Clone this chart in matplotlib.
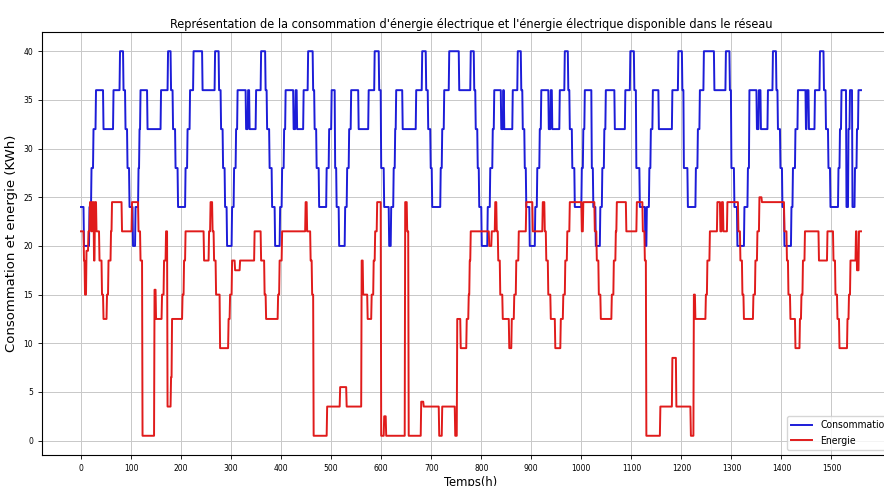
import numpy as np
import matplotlib

matplotlib.use("Agg")
import matplotlib.pyplot as plt  # noqa: E402

N_HOURS = 1560

# consumption profile: hour at which each level starts, and the level (KWh)
conso_start = [
    0, 6, 17, 21, 25, 30, 45, 65, 78, 85, 89, 93, 97, 104, 109, 115, 117, 119,
    133, 160, 174, 180, 184, 189, 194, 209, 213, 218, 225, 243, 268, 276, 280,
    284, 288, 292, 302, 306, 310, 313, 330, 334, 337, 350, 360, 369, 372, 377,
    382, 388, 398, 402, 406, 409, 425, 429, 432, 445, 454, 464, 467, 471, 476,
    491, 496, 501, 508, 511, 516, 528, 532, 536, 540, 555, 575, 587, 596, 600,
    606, 616, 620, 625, 628, 630, 643, 670, 682, 690, 694, 699, 702, 719, 722,
    726, 736, 756, 779, 786, 789, 793, 796, 801, 813, 818, 823, 826, 840, 844,
    846, 863, 873, 880, 883, 887, 890, 897, 908, 912, 917, 920, 935, 939, 942,
    957, 967, 974, 977, 982, 987, 1001, 1004, 1007, 1021, 1024, 1029, 1038,
    1042, 1046, 1049, 1067, 1088, 1098, 1106, 1110, 1117, 1128, 1131, 1136,
    1139, 1143, 1155, 1182, 1194, 1202, 1205, 1213, 1229, 1233, 1237, 1245,
    1266, 1289, 1297, 1300, 1306, 1312, 1326, 1333, 1336, 1351, 1355, 1359,
    1373, 1383, 1390, 1393, 1398, 1402, 1406, 1420, 1423, 1428, 1433, 1449,
    1451, 1455, 1467, 1477, 1485, 1489, 1494, 1498, 1514, 1517, 1520, 1530,
    1534, 1537, 1542, 1547, 1551, 1554,
]
conso_level = [
    24, 20, 24, 28, 32, 36, 32, 36, 40, 36, 32, 28, 24, 20, 24, 28, 32, 36,
    32, 36, 40, 36, 32, 28, 24, 28, 32, 36, 40, 36, 40, 36, 32,
    28, 24, 20, 24, 28, 32, 36, 32, 36, 32, 36, 40, 36, 32, 28,
    24, 20, 24, 28, 32, 36, 32, 36, 32, 36, 40, 36, 32, 28, 24,
    28, 32, 36, 28, 24, 20, 24, 28, 32, 36, 32, 36, 40, 36, 28,
    24, 20, 24, 28, 32, 36, 32, 36, 40, 36, 32, 28, 24, 28, 32,
    36, 40, 36, 40, 36, 32, 28, 24, 20, 24, 28, 32, 36, 32, 36,
    32, 36, 40, 36, 32, 28, 24, 20, 24, 28, 32, 36, 32, 36, 32,
    36, 40, 36, 32, 28, 24, 28, 32, 36, 28, 24, 20, 24,
    28, 32, 36, 32, 36, 40, 36, 28, 24, 20, 24, 28,
    32, 36, 32, 36, 40, 36, 28, 24, 28, 32, 36, 40,
    36, 40, 36, 28, 24, 20, 24, 28, 36, 32, 36, 32,
    36, 40, 36, 32, 28, 24, 20, 24, 28, 32, 36, 32,
    36, 32, 36, 40, 36, 32, 28, 24, 28, 32, 36, 24,
    32, 36, 24, 28, 32, 36,
]

# energy available in the network
energie_start = [
    0, 6, 8, 11, 15, 18, 21, 23, 26, 28, 31, 37, 42, 45, 52, 55, 60, 62, 82,
    102, 115, 119, 123, 147, 150, 162, 166, 170, 173, 180, 182, 203, 206, 209,
    246, 256, 259, 263, 266, 270, 278, 295, 298, 302, 308, 318, 347, 360, 367,
    370, 394, 397, 402, 449, 452, 459, 462, 465, 492, 518, 531, 561, 564, 573,
    581, 585, 588, 592, 600, 606, 610, 648, 652, 655, 680, 685, 716, 722, 748,
    752, 759, 771, 775, 777, 779, 816, 821, 828, 831, 834, 838, 843, 856, 861,
    866, 870, 875, 890, 903, 923, 927, 930, 934, 939, 948, 959, 964, 968, 972,
    977, 1001, 1004, 1027, 1031, 1035, 1039, 1061, 1065, 1069, 1071, 1090,
    1111, 1123, 1127, 1130, 1158, 1182, 1190, 1219, 1225, 1228, 1249, 1252,
    1257, 1272, 1278, 1281, 1284, 1292, 1314, 1318, 1322, 1325, 1344, 1348,
    1352, 1356, 1361, 1406, 1411, 1414, 1418, 1428, 1437, 1440, 1443, 1447,
    1475, 1492, 1504, 1508, 1512, 1516, 1532, 1535, 1538, 1549, 1551, 1555,
]
energie_level = [
    21.5, 18.5, 15, 19.5, 21.5, 24.5, 21.5, 24.5, 18.5, 24.5, 21.5, 18.5, 15,
    12.5, 15, 18.5, 21.5, 24.5, 21.5,
    24.5, 21.5, 18.5, 0.5, 15.5, 12.5, 15, 18.5, 21.5, 3.5, 6.5, 12.5, 15,
    18.5, 21.5,
    18.5, 21.5, 24.5, 21.5, 18.5, 15, 9.5, 12.5, 15, 18.5, 17.5, 18.5, 21.5,
    18.5, 15,
    12.5, 15, 18.5, 21.5, 24.5, 21.5, 18.5, 15, 0.5, 3.5, 5.5, 3.5, 18.5, 15,
    12.5,
    15, 18.5, 21.5, 24.5, 0.5, 2.5, 0.5, 24.5, 21.5, 0.5, 4, 3.5, 0.5, 3.5,
    0.5,
    12.5, 9.5, 12.5, 15, 18.5, 21.5, 20, 21.5, 24.5, 21.5, 18.5, 15, 12.5, 9.5,
    12.5,
    15, 18.5, 21.5, 24.5, 21.5, 24.5, 21.5, 18.5, 15, 12.5, 9.5, 12.5, 15,
    18.5, 21.5,
    24.5, 21.5, 24.5, 21.5, 18.5, 15, 12.5, 15, 18.5, 21.5, 24.5, 21.5,
    24.5, 21.5, 18.5, 0.5, 3.5, 8.5, 3.5, 0.5, 15, 12.5, 15, 18.5,
    21.5, 24.5, 21.5, 24.5, 21.5, 24.5, 21.5, 18.5, 15, 12.5, 15, 18.5,
    21.5, 25, 24.5, 21.5, 18.5, 15, 12.5, 9.5, 12.5, 15, 18.5, 21.5,
    18.5, 21.5, 18.5, 15, 12.5, 9.5, 12.5, 15, 18.5, 21.5, 17.5, 21.5,
]


def hourly(starts, levels, n=N_HOURS):
    """Expand (start hour, level) steps into one value per hour."""
    durations = np.diff(list(starts) + [n])
    return np.repeat(levels, durations)


temps = np.arange(N_HOURS)
consommation = hourly(conso_start, conso_level)
energie = hourly(energie_start, energie_level)

fig = plt.figure(figsize=(8.84, 4.86), dpi=100)
ax = fig.add_axes([42 / 884, 31 / 486, 858 / 884, 423 / 486])

ax.plot(temps, consommation, color="#1c1cd8", lw=1.4, label="Consommation")
ax.plot(temps, energie, color="#e01b1b", lw=1.4, label="Energie")

ax.set_xticks(np.arange(0, 1600, 100))
ax.set_yticks(np.arange(0, 45, 5))
ax.tick_params(labelsize=5.5, length=3, width=0.6)
ax.grid(True, color="#c8c8c8", lw=0.7)

ax.set_title("Représentation de la consommation d'énergie électrique et "
             "l'énergie électrique disponible dans le réseau",
             fontsize=9.1, fontstretch="condensed", pad=3)
ax.set_xlabel("Temps(h)", fontsize=9.3, fontstretch="condensed", labelpad=2)
ax.set_ylabel("Consommation et energie (KWh)", fontsize=9.5)
ax.legend(loc="lower right", prop={"size": 7.5, "stretch": "condensed"})

fig.savefig("out.png", dpi=100)
